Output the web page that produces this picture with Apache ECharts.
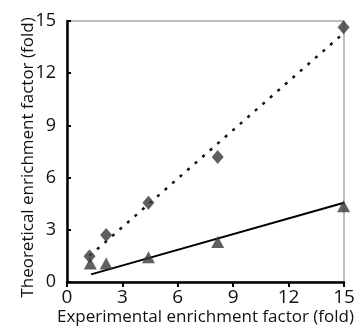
<!DOCTYPE html>
<html>
<head>
<meta charset="utf-8">
<script src="https://cdn.jsdelivr.net/npm/echarts@6/dist/echarts.min.js"></script>
<style>
  html, body { margin: 0; padding: 0; background: #fff; }
  #chart { width: 361px; height: 335px; }
</style>
</head>
<body>
<div id="chart"></div>
<script>
// experimental (x) vs theoretical (y) enrichment, two sets
const diamondX = [1.22, 2.12, 4.41, 8.16, 14.98];
const diamondY = [1.48, 2.70, 4.55, 7.19, 14.64];
const triangleX = [1.26, 2.12, 4.41, 8.16, 14.98];
const triangleY = [1.06, 1.06, 1.42, 2.30, 4.36];
// trend line end points
const diamondTrend = [[1.22, 1.50], [14.98, 14.30]];
const triangleTrend = [[1.30, 0.44], [15.0, 4.55]];
const axisTicks = [0, 3, 6, 9, 12, 15];

const font = 'Open Sans';
const chart = echarts.init(document.getElementById('chart'));

const zip = (xs, ys) => xs.map((x, i) => [x, ys[i]]);

const option = {
  animation: false,
  backgroundColor: '#fff',
  grid: {
    left: 67, right: 17, top: 21, bottom: 53,
    outerBoundsMode: 'none',
    show: true, borderColor: '#a8a8a8', borderWidth: 1.5
  },
  xAxis: {
    type: 'value', min: axisTicks[0], max: axisTicks[axisTicks.length - 1], interval: 3,
    name: 'Experimental enrichment factor (fold)',
    nameLocation: 'middle', nameGap: 27, nameMoveOverlap: false,
    nameTextStyle: { fontFamily: font, fontSize: 17, color: '#111' },
    axisLine: { lineStyle: { color: '#000', width: 2.5 } },
    axisTick: { show: true, inside: false, length: 5, lineStyle: { color: '#000', width: 2 } },
    axisLabel: { fontFamily: font, fontSize: 19, color: '#111', margin: 6 },
    splitLine: { show: false }
  },
  yAxis: {
    type: 'value', min: axisTicks[0], max: axisTicks[axisTicks.length - 1], interval: 3,
    name: 'Theoretical enrichment factor (fold)',
    nameLocation: 'middle', nameGap: 30, nameRotate: 90, nameMoveOverlap: false,
    nameTextStyle: { fontFamily: font, fontSize: 17, color: '#111', padding: [0, 12, 0, 0] },
    axisLine: { lineStyle: { color: '#000', width: 2.5 } },
    axisTick: { show: true, inside: true, length: 4, lineStyle: { color: '#000', width: 2 } },
    axisLabel: { fontFamily: font, fontSize: 18, color: '#111', margin: 11 },
    splitLine: { show: false }
  },
  series: [
    {
      type: 'line', data: diamondTrend, symbol: 'none',
      lineStyle: { color: '#111', width: 2.5, type: [3, 7] }, z: 1
    },
    {
      type: 'line', data: triangleTrend, symbol: 'none',
      lineStyle: { color: '#000', width: 2 }, z: 1
    },
    {
      type: 'scatter', data: zip(diamondX, diamondY), symbol: 'diamond',
      symbolSize: [12, 14], itemStyle: { color: '#383838' }, z: 3
    },
    {
      type: 'scatter', data: zip(triangleX, triangleY), symbol: 'triangle',
      symbolSize: [13, 12], itemStyle: { color: '#383838' }, z: 3
    }
  ]
};
chart.setOption(option);
</script>
</body>
</html>
